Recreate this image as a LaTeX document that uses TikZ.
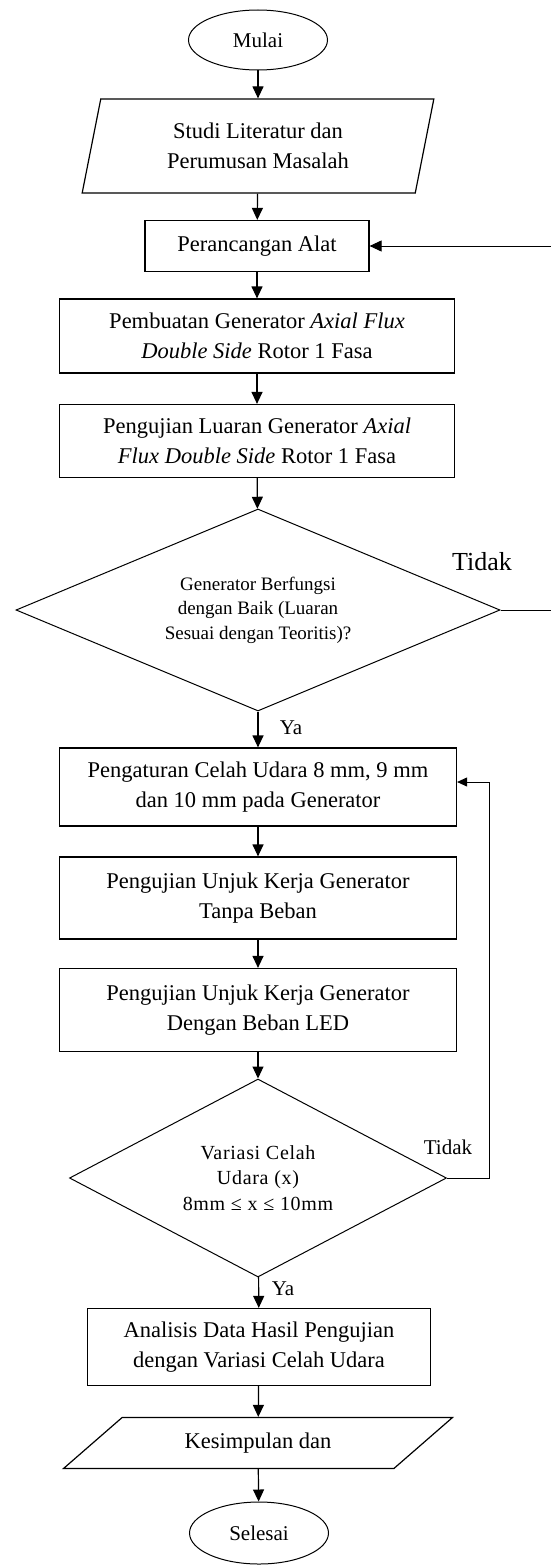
\documentclass[tikz,border=0pt]{standalone}
\usepackage{fontspec}
\setmainfont{Liberation Serif}
\usepackage{tikz}
\usetikzlibrary{arrows.meta,shapes.geometric}

\tikzset{
  terminal/.style={draw,ellipse,line width=1pt,minimum width=139pt,minimum height=60pt,inner sep=0pt,font=\fontsize{21}{25}\selectfont},
  procbox/.style={draw,rectangle,line width=1.2pt,minimum width=395pt,inner sep=0pt,align=center,font=\fontsize{22.5}{30}\selectfont},
  iobox/.style={draw,trapezium,trapezium stretches=true,line width=1.2pt,inner sep=0pt,align=center,font=\fontsize{22.5}{30}\selectfont},
  decision/.style={draw,diamond,line width=1pt,inner sep=0pt,align=center},
  arr/.style={line width=1.2pt,-{Triangle[length=12pt,width=11pt]}},
  lbl/.style={font=\fontsize{21}{25}\selectfont}
}

\begin{document}
\begin{tikzpicture}[x=1pt,y=-1pt]
\useasboundingbox (0,0) rectangle (551,1568);
\clip (0,0) rectangle (551,1568);
\node[terminal] (mulai) at (258,40) {Mulai};
\node[iobox,trapezium left angle=76.8,trapezium right angle=103.2,minimum width=352pt,minimum height=94pt] (studi) at (258,146) {Studi Literatur dan\\Perumusan Masalah};
\node[procbox,minimum width=224pt,minimum height=51pt] (rancang) at (257,246) {Perancangan Alat};
\node[procbox,minimum height=74pt] (buat) at (257,336) {Pembuatan Generator \textit{Axial Flux}\\\textit{Double Side} Rotor 1 Fasa};
\node[procbox,minimum height=73pt] (uji) at (257,441) {Pengujian Luaran Generator \textit{Axial}\\\textit{Flux Double Side} Rotor 1 Fasa};
\node[decision,aspect=2.4,minimum width=484pt,minimum height=202pt,font=\fontsize{19}{24.5}\selectfont] (cek) at (258,610) {Generator Berfungsi\\dengan Baik (Luaran\\Sesuai dengan Teoritis)?};
\node[procbox,minimum width=397pt,minimum height=78pt] (celah) at (258,787) {Pengaturan Celah Udara 8 mm, 9 mm\\dan 10 mm pada Generator};
\node[procbox,minimum width=397pt,minimum height=82pt] (tanpa) at (258,898) {Pengujian Unjuk Kerja Generator\\Tanpa Beban};
\node[procbox,minimum width=397pt,minimum height=83pt] (led) at (258,1010) {Pengujian Unjuk Kerja Generator\\Dengan Beban LED};
\node[decision,aspect=1.9,minimum width=377pt,minimum height=198pt,font=\fontsize{20}{25.5}\selectfont\addfontfeature{LetterSpace=3.5}] (variasi) at (258,1178) {Variasi Celah\\Udara (x)\\8mm ≤ x ≤ 10mm};
\node[procbox,minimum width=343pt,minimum height=77pt] (analisis) at (259,1347) {Analisis Data Hasil Pengujian\\dengan Variasi Celah Udara};
\node[iobox,trapezium left angle=32.8,trapezium right angle=147.2,minimum width=390pt,minimum height=51pt] (simpul) at (258,1443) {Kesimpulan dan};
\node[terminal,minimum height=62pt] (selesai) at (259,1533) {Selesai};

\node[lbl] (ya1) at (291,728) {Ya};
\node[lbl] (ya2) at (283,1289) {Ya};
\node[font=\fontsize{26}{30}\selectfont] (tidak1) at (482,562) {Tidak};
\node[lbl] (tidak2) at (448,1147) {Tidak};

\draw[arr] (mulai) -- (studi);
\draw[arr] (studi) -- (rancang);
\draw[arr] (rancang) -- (buat);
\draw[arr] (buat) -- (uji);
\draw[arr] (uji) -- (cek);
\draw[arr] (cek) -- (celah);
\draw[arr] (celah) -- (tanpa);
\draw[arr] (tanpa) -- (led);
\draw[arr] (led) -- (variasi);
\draw[arr] (variasi) -- (analisis);
\draw[arr] (analisis) -- (simpul);
\draw[arr] (simpul) -- (selesai);

\coordinate (back1) at (556,610);
\draw[arr,line width=1pt] (cek.east) -- (back1) |- (rancang.east);
\coordinate (back2) at (489,782);
\draw[line width=1pt,-{Triangle[length=10pt,width=9pt]}] (variasi.east) -| (back2) -- (back2 -| celah.east);
\end{tikzpicture}
\end{document}
